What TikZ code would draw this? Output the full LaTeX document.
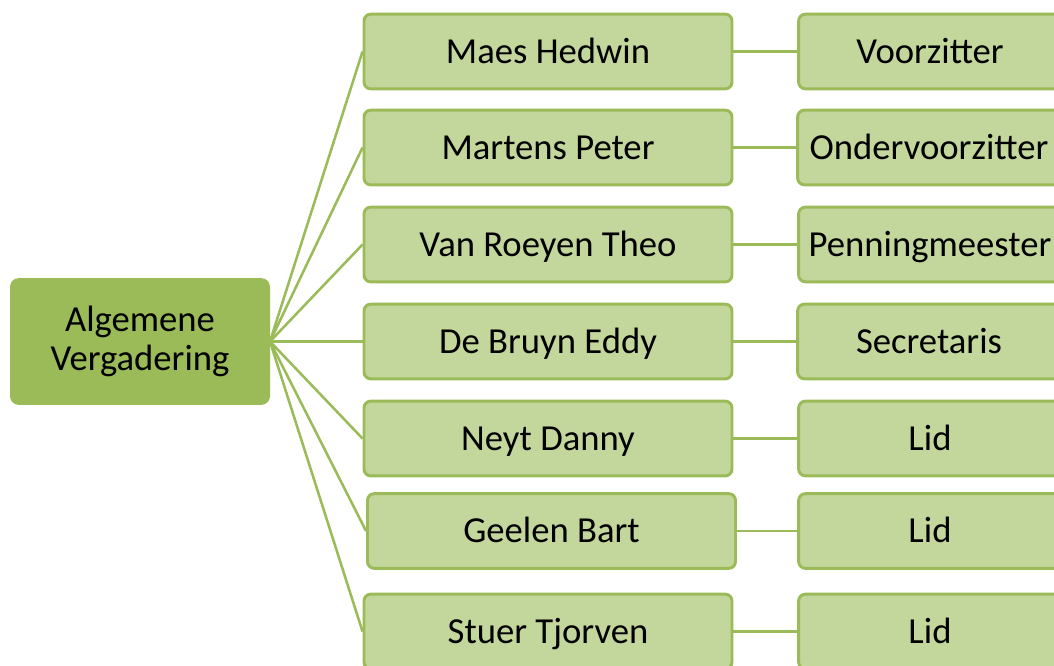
\documentclass[tikz,border=0pt]{standalone}
\usepackage{fontspec}
\setmainfont{Carlito}
\definecolor{vgdark}{HTML}{9BBB59}
\definecolor{vglight}{HTML}{C3D69B}
\tikzset{
  every node/.style={font=\fontsize{27.5}{29.5}\selectfont,inner sep=0pt},
  root/.style={fill=vgdark,draw=vgdark,line width=1pt,rounded corners=6pt,
               minimum width=194pt,minimum height=94pt,align=center},
  lidbox/.style={fill=vglight,draw=vgdark,line width=2.2pt,rounded corners=5pt,
                 minimum width=276pt,minimum height=56pt,
                 text height=17.7pt,text depth=0pt},
  functie/.style={lidbox,minimum width=197pt},
  link/.style={draw=vgdark,line width=1.9pt}
}
\begin{document}
\begin{tikzpicture}[x=0.75pt,y=-0.75pt]
\path[use as bounding box,clip] (0,0) rectangle (1054,665);
% root
\node[root] (av) at (140,341.5) {Algemene\\Vergadering};
% leden
\node[lidbox] (maes)     at (548,51.5)  {Maes Hedwin};
\node[lidbox] (martens)  at (548,147.5) {Martens Peter};
\node[lidbox] (roeyen)   at (548,244.5) {Van Roeyen Theo};
\node[lidbox] (bruyn)    at (548,341.5) {De Bruyn Eddy};
\node[lidbox] (neyt)     at (548,438.5) {Neyt Danny};
\node[lidbox] (geelen)   at (551.5,531) {Geelen Bart};
\node[lidbox] (stuer)    at (548,631.5) {Stuer Tjorven};
% functies
\node[functie] (voorz)   at (930,51.5)  {Voorzitter};
\node[functie] (ondervz) at (929,147.5) {Ondervoorzitter};
\node[functie] (penning) at (930,244.5) {Penningmeester};
\node[functie] (secr)    at (929,341.5) {Secretaris};
\node[functie] (lida)    at (930,438.5) {Lid};
\node[functie] (lidb)    at (930,531)   {Lid};
\node[functie] (lidc)    at (930,631.5) {Lid};
% verbindingen
\draw[link] (av.east) -- (maes.west);
\draw[link] (av.east) -- (martens.west);
\draw[link] (av.east) -- (roeyen.west);
\draw[link] (av.east) -- (bruyn.west);
\draw[link] (av.east) -- (neyt.west);
\draw[link] (av.east) -- (geelen.west);
\draw[link] (av.east) -- (stuer.west);
\draw[link] (maes) -- (voorz);
\draw[link] (martens) -- (ondervz);
\draw[link] (roeyen) -- (penning);
\draw[link] (bruyn) -- (secr);
\draw[link] (neyt) -- (lida);
\draw[link] (geelen) -- (lidb);
\draw[link] (stuer) -- (lidc);
\end{tikzpicture}
\end{document}
